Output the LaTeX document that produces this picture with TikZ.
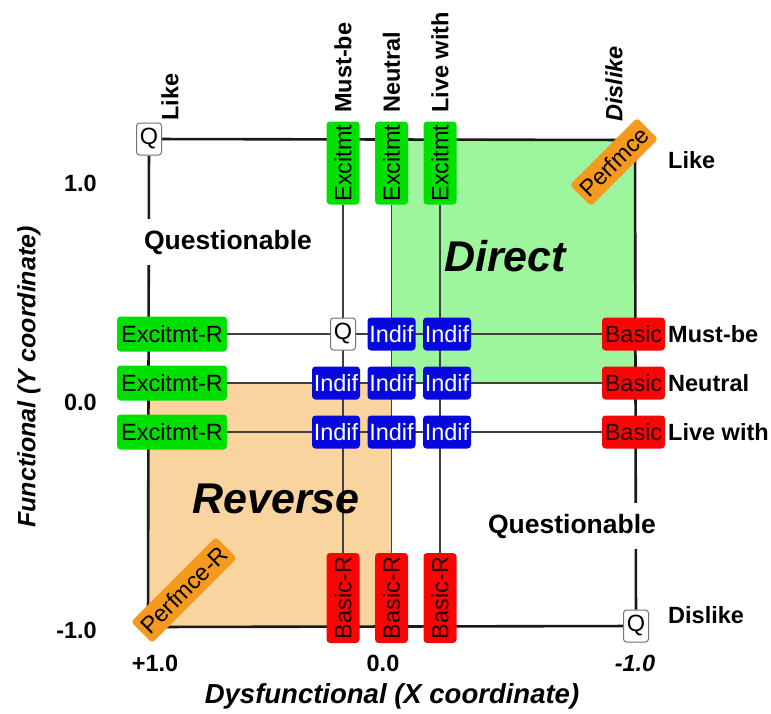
\documentclass[tikz,border=0pt]{standalone}
\usepackage{fontspec}
\setmainfont{Liberation Sans}
\usetikzlibrary{positioning}
\pgfdeclarelayer{bg}
\pgfdeclarelayer{ln}
\pgfsetlayers{bg,ln,main}
\definecolor{exgreen}{HTML}{00E000}
\definecolor{indblue}{HTML}{0707E0}
\definecolor{basred}{HTML}{FA0505}
\definecolor{perforange}{HTML}{F59A1E}
\definecolor{dirfill}{HTML}{9DF59D}
\definecolor{revfill}{HTML}{FAD49F}
\newcommand\boxfont{\fontsize{23.5}{26}\selectfont}
\newcommand\lblfont{\fontsize{23.5}{26}\selectfont\bfseries}
\newcommand\qfont{\fontsize{26.5}{30}\selectfont\bfseries}
\newcommand\bigfont{\fontsize{43}{48}\selectfont\bfseries\itshape}
\newcommand\axfont{\fontsize{27.5}{31}\selectfont\bfseries\itshape}
\newcommand\ayfont{\fontsize{25}{29}\selectfont\bfseries\itshape}
\begin{document}
\begin{tikzpicture}[x=1pt,y=-1pt,
  box/.style={rounded corners=3.5pt, inner sep=0pt, font=\boxfont, minimum height=33pt},
  exc/.style={box, fill=exgreen, minimum width=83pt, rotate=90},
  excr/.style={box, fill=exgreen, minimum width=110pt, minimum height=35pt},
  indif/.style={box, fill=indblue, text=white, minimum width=48pt},
  basic/.style={box, fill=basred, text=black!85!red, minimum width=63pt},
  basicr/.style={box, fill=basred, text=black!85!red, minimum width=90pt, rotate=90},
  perf/.style={box, fill=perforange, minimum height=30pt, rotate=45},
  qbox/.style={draw=black!55, fill=white, rounded corners=3pt, inner sep=0pt,
    minimum width=25pt, minimum height=32pt, font=\boxfont, line width=1pt},
  toplbl/.style={font=\lblfont, rotate=90, anchor=west, inner sep=0pt},
  sidelbl/.style={font=\lblfont, anchor=west, inner sep=0pt},
  numlbl/.style={font=\lblfont, inner sep=0pt},
  quest/.style={font=\qfont, fill=white, inner xsep=2pt, inner ysep=11pt},
  frame/.style={line width=2.6pt, black!90},
  gridline/.style={line width=1.2pt, black!75}]
\useasboundingbox (0,0) rectangle (771,713);

% corners of the outer square
\coordinate (tr) at (635,140);
\coordinate (bl) at (148,627);

% corner markers
\node[qbox] (qtl) at (149,139) {Q};
\node[qbox] (qbr) at (636,626) {Q};
\node[perf, minimum width=95pt] (pf) at (614,162) {Perfmce};
\node[perf, minimum width=120pt] (pfr) at (184,590) {Perfmce-R};

% top row: Excitmt
\node[exc] (ex1) at (343,163) {Excitmt};
\node[exc] (ex2) at (391.5,163) {Excitmt};
\node[exc] (ex3) at (440,163) {Excitmt};

% bottom row: Basic-R
\node[basicr] (br1) at (343,598) {Basic-R};
\node[basicr] (br2) at (391.5,598) {Basic-R};
\node[basicr] (br3) at (440,598) {Basic-R};

% left column: Excitmt-R
\node[excr] (er1) at (172,334) {Excitmt-R};
\node[excr] (er2) at (172,383) {Excitmt-R};
\node[excr] (er3) at (172,432) {Excitmt-R};

% right column: Basic
\node[basic] (bs1) at (633.5,334) {Basic};
\node[basic] (bs2) at (633.5,383) {Basic};
\node[basic] (bs3) at (633.5,432) {Basic};

% centre cells
\node[qbox] (qc) at (343,334) {Q};
\node[indif] (i12) at (391.5,334) {Indif};
\node[indif] (i13) at (447,334) {Indif};
\node[indif] (i21) at (336,383) {Indif};
\node[indif] (i22) at (391.5,383) {Indif};
\node[indif] (i23) at (447,383) {Indif};
\node[indif] (i31) at (336,432) {Indif};
\node[indif] (i32) at (391.5,432) {Indif};
\node[indif] (i33) at (447,432) {Indif};

% region fills
\begin{pgfonlayer}{bg}
  \fill[dirfill] (391.5,140) rectangle (635,383);
  \fill[revfill] (148,383) rectangle (391.5,627);
\end{pgfonlayer}

% frame and grid lines
\begin{pgfonlayer}{ln}
  \draw[frame] (qtl) -- (tr) -- (qbr) -- (bl) -- (qtl);
  \draw[gridline] (ex1) -- (br1);
  \draw[gridline] (ex2) -- (br2);
  \draw[gridline] (ex3) -- (br3);
  \draw[gridline] (er1) -- (bs1);
  \draw[gridline] (er2) -- (bs2);
  \draw[gridline] (er3) -- (bs3);
\end{pgfonlayer}

% region names
\node[quest] (ql) at (228,242) {Questionable};
\node[quest] (qr) at (572,526) {Questionable};
\node[font=\bigfont] (dir) at (505,256) {Direct};
\node[font=\bigfont] (rev) at (276,499) {Reverse};

% answer labels along the top
\node[toplbl] (tlike) at (170,121) {Like};
\node[toplbl] (tmust) at (343,113) {Must-be};
\node[toplbl] (tneut) at (391.5,113) {Neutral};
\node[toplbl] (tlive) at (440,113) {Live with};
\node[toplbl, font=\lblfont\itshape] (tdis) at (614,122) {Dislike};

% answer labels along the right
\node[sidelbl] (rlike) at (668,160) {Like};
\node[sidelbl] (rmust) at (668,334) {Must-be};
\node[sidelbl] (rneut) at (668,383) {Neutral};
\node[sidelbl] (rlive) at (668,432) {Live with};
\node[sidelbl] (rdis) at (668,615) {Dislike};

% axis values
\node[numlbl, anchor=east] (y1) at (97,183) {1.0};
\node[numlbl, anchor=east] (y0) at (97,402) {0.0};
\node[numlbl, anchor=east] (ym) at (97,630) {-1.0};
\node[numlbl] (x1) at (155,663) {+1.0};
\node[numlbl] (x0) at (383,663) {0.0};
\node[numlbl, font=\lblfont\itshape] (xm) at (635,663) {-1.0};

% axis titles
\node[font=\axfont] (xt) at (392,696) {Dysfunctional (X coordinate)};
\node[font=\ayfont, rotate=90] (yt) at (29,377) {Functional (Y coordinate)};
\end{tikzpicture}
\end{document}
